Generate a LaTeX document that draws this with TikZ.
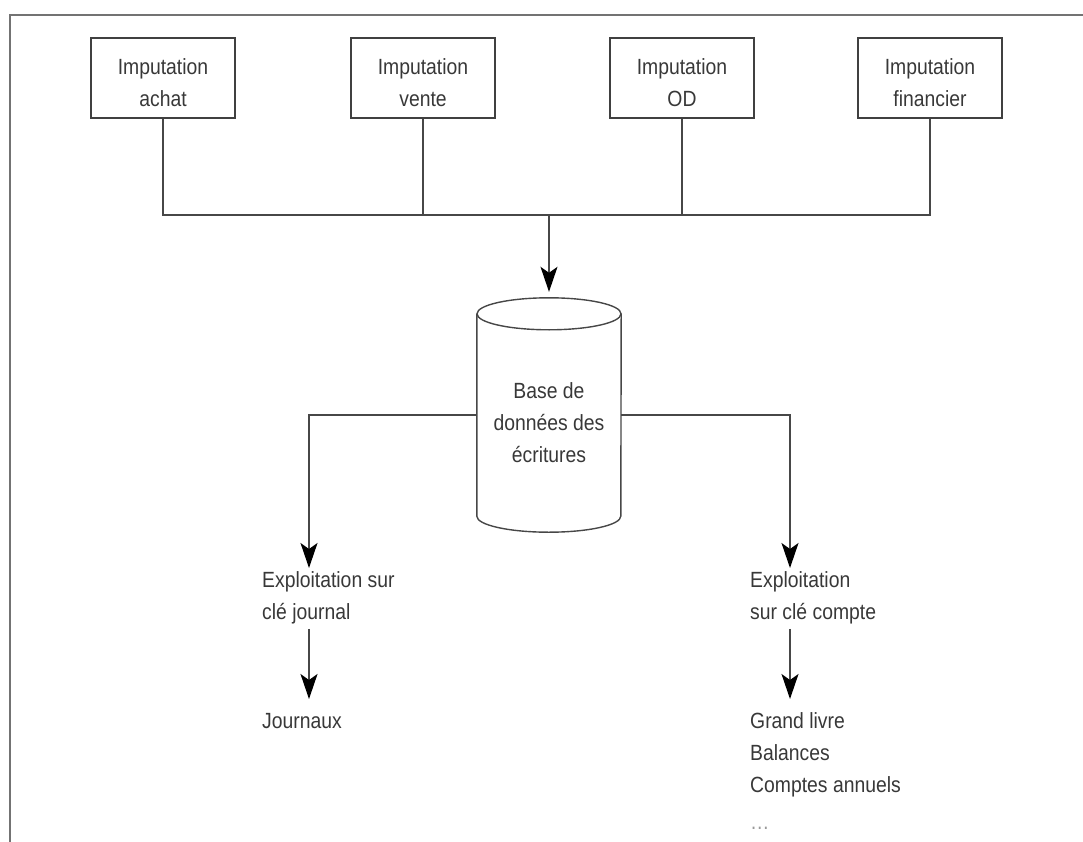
\documentclass[tikz,border=0pt]{standalone}
\usepackage{fontspec}
\setmainfont{Liberation Sans}[FakeStretch=0.88]
\usetikzlibrary{arrows.meta}
% extra height above the first line of the module captions
\newcommand{\capstrut}{\rule{0pt}{26pt}}
\begin{document}
\begin{tikzpicture}[x=1pt,y=-1pt,
  every node/.style={font=\fontsize{22}{32}\selectfont, text=black!78},
  imput/.style={draw=black!75, line width=1.6pt, minimum width=144pt,
    minimum height=80pt, align=center, inner sep=0pt},
  dbshape/.style={minimum width=144pt, minimum height=234pt, inner sep=0pt},
  label/.style={align=left, anchor=north west, inner sep=0pt},
  wire/.style={draw=black!72, line width=1.4pt},
  arr/.style={wire, -{Stealth[length=25pt,width=17pt,inset=6pt,black]}},
  frame/.style={draw=black!55, line width=2pt}]
\useasboundingbox (0,0) rectangle (1083,842);

% frame
\draw[frame] (1083,15) -- (10,15) -- (10,842);

% entry modules
\node[imput] (b1) at (163,78) {\capstrut Imputation\\achat};
\node[imput] (b2) at (423,78) {\capstrut Imputation\\vente};
\node[imput] (b3) at (682,78) {\capstrut Imputation\\OD};
\node[imput] (b4) at (930,78) {\capstrut Imputation\\financier};

% collecting bus
\coordinate (bus) at (549,215);
\draw[wire] (b1.south) -- (b1.south |- bus) -- (b4.south |- bus) -- (b4.south);
\draw[wire] (b2.south) -- (b2.south |- bus);
\draw[wire] (b3.south) -- (b3.south |- bus);

% database cylinder (yshift is in canvas direction: negative goes down)
\node[dbshape] (db) at (549,415) {};
\draw[wire] ([yshift=-16pt]db.north) ellipse [x radius=72pt, y radius=16pt];
\draw[wire] ([yshift=-16pt]db.north west) -- ([yshift=16pt]db.south west)
  arc[start angle=180, end angle=360, x radius=72pt, y radius=16pt]
  -- ([yshift=-16pt]db.north east);
\node[align=center, inner sep=0pt] (dbt) at (549,423) {Base de\\données des\\écritures};

\draw[arr, shorten >=6pt] (bus) -- (db.north);

% outputs
\node[label] (e1) at (262,571) {Exploitation sur\\clé journal};
\node[label] (e2) at (750,571) {Exploitation\\sur clé compte};
\node[label] (r1) at (262,713) {Journaux};
\node[label] (r2) at (750,712) {Grand livre\\Balances\\Comptes annuels\\[5pt]{\color{black!40}\ldots}};

\draw[arr, shorten >=3pt] (db.west) -| ([xshift=47pt]e1.north west);
\draw[arr, shorten >=3pt] (db.east) -| ([xshift=40pt]e2.north west);
\draw[arr, shorten <=5pt, shorten >=14pt] ([xshift=47pt]e1.south west) -- ([xshift=47pt]r1.north west);
\draw[arr, shorten <=5pt, shorten >=13pt] ([xshift=40pt]e2.south west) -- ([xshift=40pt]r2.north west);
\end{tikzpicture}
\end{document}
